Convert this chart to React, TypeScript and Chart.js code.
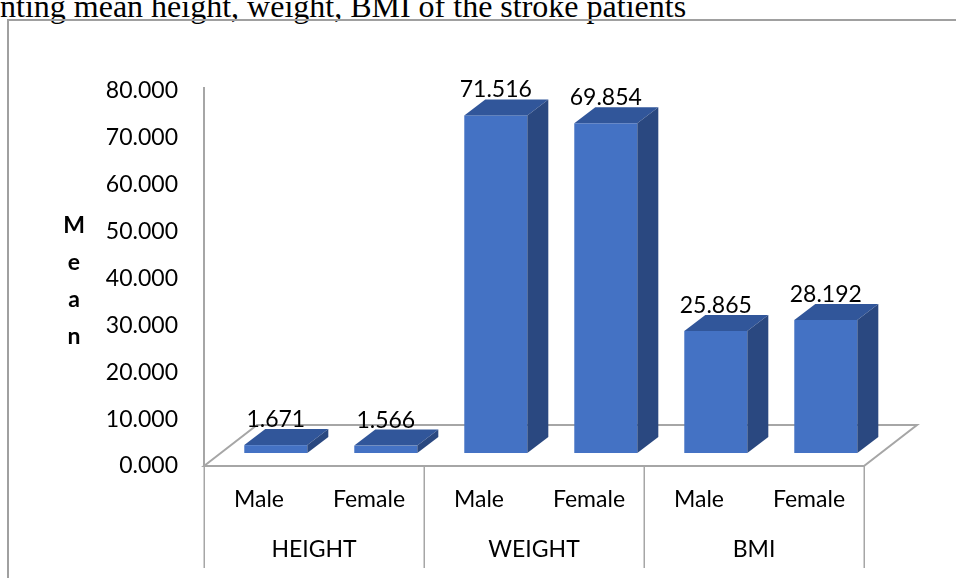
import React, { useEffect, useRef } from "react";
import { Chart, registerables } from "chart.js";

Chart.register(...registerables);

// Mean anthropometric values of stroke patients, by measure and sex
const subLabels = ["Male", "Female", "Male", "Female", "Male", "Female"];
const groupLabels = ["HEIGHT", "WEIGHT", "BMI"];
const meanValues = [1.671, 1.566, 71.516, 69.854, 25.865, 28.192];
const axisMin = 0;
const axisMax = 80;
const axisStep = 10;
const axisTitleLetters = ["M", "e", "a", "n"];
const captionText = "nting mean height, weight, BMI of the stroke patients";

const FONT = "Lato, 'Open Sans', sans-serif";
const FRONT = "#4472C4";
const TOP = "#31569A";
const SIDE = "#2A4880";
const LINE = "#A6A6A6";

// oblique projection used for the floor and the bar bodies
const FLOOR_DX = 53;
const FLOOR_DY = -41;
const BAR_INSET = 0.317; // where the bar fronts sit inside the floor depth
const BAR_DX = 21;
const BAR_DY = -16;
const BAR_PX_PER_UNIT = 4.72;

const threeD = {
  id: "threeD",
  beforeDatasetsDraw(chart: any) {
    const { ctx, chartArea: a } = chart;
    ctx.save();
    // floor
    ctx.strokeStyle = LINE;
    ctx.lineWidth = 2;
    ctx.fillStyle = "#FFFFFF";
    ctx.beginPath();
    ctx.moveTo(a.left, a.bottom);
    ctx.lineTo(a.left + FLOOR_DX, a.bottom + FLOOR_DY);
    ctx.lineTo(a.right + FLOOR_DX, a.bottom + FLOOR_DY);
    ctx.lineTo(a.right, a.bottom);
    ctx.closePath();
    ctx.fill();
    ctx.stroke();
    // value axis line
    ctx.beginPath();
    ctx.moveTo(a.left, a.top - 4);
    ctx.lineTo(a.left, a.bottom);
    ctx.stroke();
    // category table dividers
    ctx.lineWidth = 1.5;
    const n = groupLabels.length;
    const gw = (a.right - a.left) / n;
    for (let k = 0; k <= n; k++) {
      const x = Math.round(a.left + k * gw) + 0.25;
      ctx.beginPath();
      ctx.moveTo(x, a.bottom);
      ctx.lineTo(x, 568);
      ctx.stroke();
    }
    // group labels
    ctx.fillStyle = "#000000";
    ctx.font = `23px ${FONT}`;
    ctx.textAlign = "center";
    ctx.textBaseline = "middle";
    groupLabels.forEach((g, k) => {
      ctx.fillText(g, a.left + (k + 0.5) * gw, 550);
    });
    // stacked axis title
    ctx.font = `bold 23px ${FONT}`;
    axisTitleLetters.forEach((ch, i) => {
      ctx.fillText(ch, 74, 226 + i * 37);
    });
    ctx.restore();
  },
  afterDatasetsDraw(chart: any) {
    const { ctx } = chart;
    const meta = chart.getDatasetMeta(0);
    const sx = FLOOR_DX * BAR_INSET;
    const sy = FLOOR_DY * BAR_INSET;
    ctx.save();
    meta.data.forEach((el: any, i: number) => {
      const { x, y, base, width } = el.getProps(["x", "y", "base", "width"], true);
      const l = x - width / 2 + sx;
      const r = x + width / 2 + sx;
      const t = y + sy;
      const b = base + sy;
      // front face
      ctx.fillStyle = FRONT;
      ctx.fillRect(l, t, r - l, b - t);
      // top face
      ctx.fillStyle = TOP;
      ctx.beginPath();
      ctx.moveTo(l, t);
      ctx.lineTo(l + BAR_DX, t + BAR_DY);
      ctx.lineTo(r + BAR_DX, t + BAR_DY);
      ctx.lineTo(r, t);
      ctx.closePath();
      ctx.fill();
      // side face
      ctx.fillStyle = SIDE;
      ctx.beginPath();
      ctx.moveTo(r, t);
      ctx.lineTo(r + BAR_DX, t + BAR_DY);
      ctx.lineTo(r + BAR_DX, b + BAR_DY);
      ctx.lineTo(r, b);
      ctx.closePath();
      ctx.fill();
      // value label
      ctx.fillStyle = "#000000";
      ctx.font = `23px ${FONT}`;
      ctx.textAlign = "center";
      ctx.textBaseline = "alphabetic";
      ctx.fillText(meanValues[i].toFixed(3), x + sx, t + BAR_DY - 2);
    });
    ctx.restore();
  },
};

export default function App() {
  const canvasRef = useRef<HTMLCanvasElement | null>(null);

  useEffect(() => {
    const canvas = canvasRef.current;
    if (!canvas) return;
    const chart = new Chart(canvas, {
      type: "bar",
      data: {
        labels: subLabels,
        datasets: [
          {
            label: "Mean",
            data: meanValues,
            yAxisID: "yBar",
            backgroundColor: "rgba(0,0,0,0)",
            borderWidth: 0,
            categoryPercentage: 1,
            barPercentage: 0.573,
          },
        ],
      },
      options: {
        responsive: false,
        animation: false,
        events: [],
        layout: { padding: { left: 0, right: 92, top: 91, bottom: 0 } },
        plugins: {
          legend: { display: false },
          tooltip: { enabled: false },
          title: { display: false },
        },
        scales: {
          x: {
            type: "category",
            offset: true,
            grid: { display: false, drawTicks: false },
            border: { display: false },
            ticks: {
              color: "#000000",
              font: { family: FONT, size: 23 },
              padding: 20,
              maxRotation: 0,
              autoSkip: false,
            },
            afterFit: (scale: any) => {
              scale.height = 112;
            },
          },
          y: {
            position: "left",
            min: axisMin,
            max: axisMax,
            grid: { display: false, drawTicks: false },
            border: { display: false },
            ticks: {
              stepSize: axisStep,
              color: "#000000",
              font: { family: FONT, size: 23 },
              padding: 26,
              callback: (v: any) => Number(v).toFixed(3),
            },
            afterFit: (scale: any) => {
              scale.width = 204;
            },
          },
          yBar: {
            display: false,
            min: 0,
            max: 375 / BAR_PX_PER_UNIT,
          },
        },
      },
      plugins: [threeD],
    });
    return () => chart.destroy();
  }, []);

  return (
    <div
      style={{
        position: "fixed",
        left: 0,
        top: 0,
        width: 956,
        height: 578,
        overflow: "hidden",
        background: "#FFFFFF",
      }}
    >
      <div
        style={{
          position: "absolute",
          left: 0,
          top: -10,
          fontFamily: "'Liberation Serif', 'Times New Roman', serif",
          fontSize: 32,
          lineHeight: "32px",
          whiteSpace: "nowrap",
          color: "#000000",
        }}
      >
        {captionText}
      </div>
      <div
        style={{
          position: "absolute",
          left: 7,
          top: 19,
          width: 1000,
          height: 700,
          border: "2px solid #A0A0A0",
          boxSizing: "border-box",
        }}
      />
      <canvas
        ref={canvasRef}
        width={956}
        height={578}
        style={{ position: "absolute", left: 0, top: 0, width: 956, height: 578 }}
      />
    </div>
  );
}
